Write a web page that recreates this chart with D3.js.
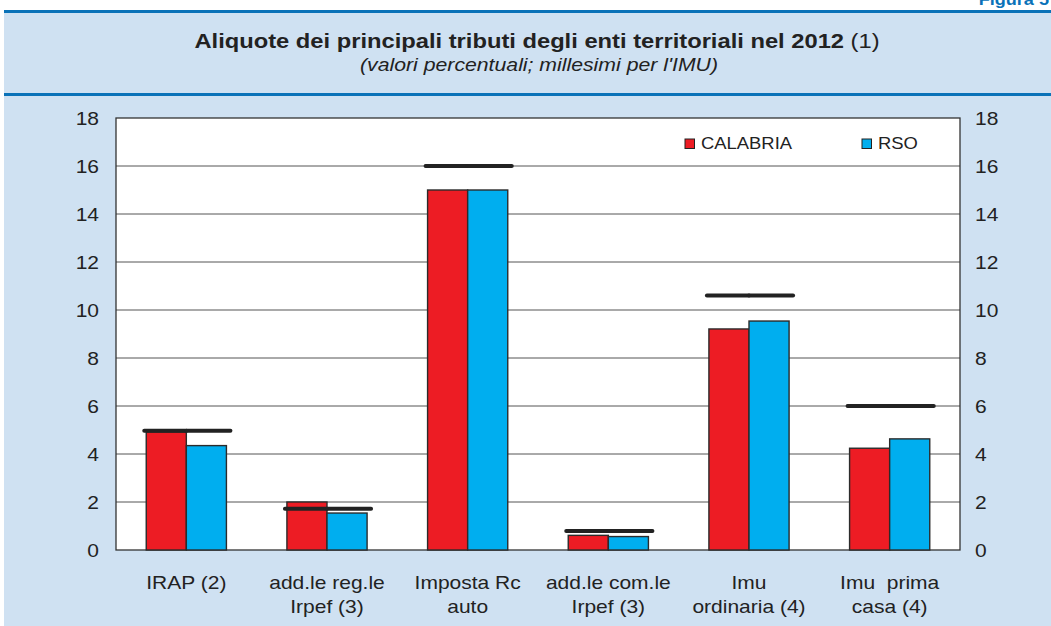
<!DOCTYPE html>
<html>
<head>
<meta charset="utf-8">
<script src="https://cdn.jsdelivr.net/npm/d3@7"></script>
<style>
  body { margin: 0; background: #fff; }
  svg { display: block; font-family: Arial, "Liberation Sans", sans-serif; }
</style>
</head>
<body>
<div id="chart"></div>
<script>
// data
const categories = [
  ['IRAP (2)'],
  ['add.le reg.le', 'Irpef (3)'],
  ['Imposta Rc', 'auto'],
  ['add.le com.le', 'Irpef (3)'],
  ['Imu', 'ordinaria (4)'],
  ['Imu  prima', 'casa (4)'],
];
const calabria = [4.92, 2.0, 15.0, 0.61, 9.21, 4.24];
const rso = [4.35, 1.54, 15.0, 0.56, 9.54, 4.63];
const maxRate = [4.97, 1.72, 16.0, 0.79, 10.6, 6.0];
const seriesNames = ['CALABRIA', 'RSO'];
const yTicks = [0, 2, 4, 6, 8, 10, 12, 14, 16, 18];

const colors = ['#ED1C24', '#00AEEF'];
const W = 1051, H = 626;
const plot = { left: 116, right: 960, top: 118, bottom: 550 };
const SX = 1.13; // text in the original is a bit wide

const svg = d3.select('#chart').append('svg')
  .attr('width', W).attr('height', H);

// place a text with horizontal stretch
function txt(parent, x, y, size) {
  return parent.append('text')
    .attr('transform', `translate(${x},${y}) scale(${SX},1)`)
    .attr('font-size', size)
    .attr('fill', '#222');
}

// BACKGROUND / HEADER
svg.append('rect')
  .attr('x', 4).attr('y', 10).attr('width', W - 4).attr('height', H - 10)
  .attr('fill', '#CFE1F2');
svg.append('rect')
  .attr('x', 4).attr('y', 10).attr('width', W - 4).attr('height', 3)
  .attr('fill', '#0A72B8');
svg.append('rect')
  .attr('x', 4).attr('y', 93).attr('width', W - 4).attr('height', 3)
  .attr('fill', '#0A72B8');

txt(svg, W - 2, 5, 16)
  .attr('text-anchor', 'end')
  .attr('font-weight', 'bold')
  .attr('fill', '#0A72B8')
  .text('Figura 5');

const title = txt(svg, 537, 48, 21)
  .attr('text-anchor', 'middle');
title.append('tspan').attr('font-weight', 'bold')
  .text('Aliquote dei principali tributi degli enti territoriali nel 2012');
title.append('tspan').text(' (1)');

txt(svg, 539, 71, 18.8)
  .attr('text-anchor', 'middle')
  .attr('font-style', 'italic')
  .text("(valori percentuali; millesimi per l'IMU)");

// SCALES
const x = d3.scaleBand()
  .domain(d3.range(categories.length))
  .range([plot.left, plot.right])
  .paddingInner(0.43)
  .paddingOuter(0.215);
const xSub = d3.scaleBand()
  .domain([0, 1])
  .range([0, x.bandwidth()]);
const y = d3.scaleLinear()
  .domain([0, 18])
  .range([plot.bottom, plot.top]);

// plot area
svg.append('rect')
  .attr('x', plot.left).attr('y', plot.top)
  .attr('width', plot.right - plot.left).attr('height', plot.bottom - plot.top)
  .attr('fill', '#fff');

// gridlines
svg.append('g')
  .selectAll('line')
  .data(yTicks.filter(d => d > 0 && d < 18))
  .join('line')
  .attr('x1', plot.left).attr('x2', plot.right)
  .attr('y1', d => y(d)).attr('y2', d => y(d))
  .attr('stroke', '#555').attr('stroke-width', 1);

// frame
svg.append('rect')
  .attr('x', plot.left).attr('y', plot.top)
  .attr('width', plot.right - plot.left).attr('height', plot.bottom - plot.top)
  .attr('fill', 'none').attr('stroke', '#333').attr('stroke-width', 1.3);

// BARS
const rows = categories.map((c, i) => ({ i, vals: [calabria[i], rso[i]], max: maxRate[i] }));

const groups = svg.append('g').selectAll('g')
  .data(rows)
  .join('g')
  .attr('transform', d => `translate(${x(d.i)},0)`);

groups.selectAll('rect')
  .data(d => d.vals.map((v, s) => ({ v, s })))
  .join('rect')
  .attr('x', d => xSub(d.s))
  .attr('y', d => y(d.v))
  .attr('width', xSub.bandwidth())
  .attr('height', d => y(0) - y(d.v))
  .attr('fill', d => colors[d.s])
  .attr('stroke', '#2b2b2b').attr('stroke-width', 1.4);

// max rate marker
groups.selectAll('line.max')
  .data(d => [0, 1].map(s => ({ s, max: d.max })))
  .join('line')
  .attr('class', 'max')
  .attr('x1', d => xSub(d.s) - (d.s === 0 ? 2 : 0))
  .attr('x2', d => xSub(d.s) + xSub.bandwidth() + (d.s === 1 ? 4 : 0))
  .attr('y1', d => y(d.max)).attr('y2', d => y(d.max))
  .attr('stroke', '#222').attr('stroke-width', 4)
  .attr('stroke-linecap', 'round');

// AXES LABELS
const tickFont = 18.6;
const yl = svg.append('g');
yTicks.forEach(t => {
  txt(yl, 99, y(t) + 6.8, tickFont).attr('text-anchor', 'end').text(t);
  txt(yl, 975, y(t) + 6.8, tickFont).attr('text-anchor', 'start').text(t);
});

const xl = svg.append('g');
rows.forEach(d => {
  const cx = x(d.i) + x.bandwidth() / 2;
  categories[d.i].forEach((line, k) => {
    txt(xl, cx, 589 + k * 24, tickFont)
      .attr('text-anchor', 'middle')
      .attr('xml:space', 'preserve')
      .text(line);
  });
});

// LEGEND
const legendX = [685, 862];
const legend = svg.append('g');
seriesNames.forEach((name, i) => {
  legend.append('rect')
    .attr('x', legendX[i]).attr('y', 139)
    .attr('width', 9.5).attr('height', 9.5)
    .attr('fill', colors[i])
    .attr('stroke', '#222').attr('stroke-width', 1);
  txt(legend, legendX[i] + 16, 148.5, 16.3).text(name);
});
</script>
</body>
</html>
